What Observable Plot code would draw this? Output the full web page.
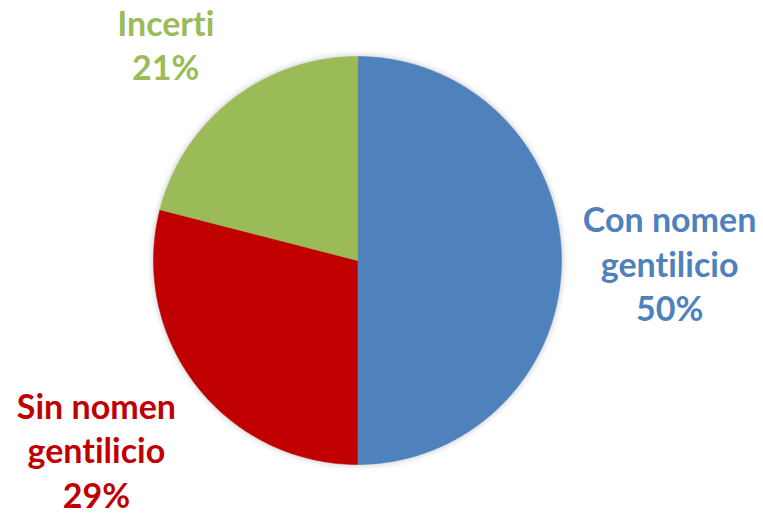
<!DOCTYPE html>
<html>
<head>
<meta charset="utf-8">
<script src="https://cdn.jsdelivr.net/npm/d3@7"></script>
<script src="https://cdn.jsdelivr.net/npm/@observablehq/plot@0.6"></script>
<style>
  html, body { margin: 0; padding: 0; background: #fff; }
  #chart svg text { font-variant-ligatures: none; font-feature-settings: "liga" 0, "clig" 0; }
</style>
</head>
<body>
<div id="chart"></div>
<script>
// Data
const categories = ["Con nomen gentilicio", "Sin nomen gentilicio", "Incerti"];
const values = [50, 29, 21];
const labels = ["Con nomen\ngentilicio\n50%", "Sin nomen\ngentilicio\n29%", "Incerti\n21%"];
const colors = ["#4F81BD", "#C00000", "#9BBB59"];

// Layout (pixels)
const W = 763, H = 515, cx = 357, cy = 260, R = 204;
// label anchor in units of radius (layout only)
const labelPos = [[1.53, 0.01], [-1.28, 0.925], [-0.94, -1.06]];

// Build slice polygons from values via d3.pie (angles from top, clockwise)
const arcs = d3.pie().sort(null).value(d => d)(values);
const pts = [];
arcs.forEach((a, i) => {
  pts.push({cat: categories[i], x: 0, y: 0});
  const n = Math.max(2, Math.ceil((a.endAngle - a.startAngle) / (Math.PI / 360)));
  for (let k = 0; k <= n; k++) {
    const t = a.startAngle + (a.endAngle - a.startAngle) * k / n;
    pts.push({cat: categories[i], x: Math.sin(t), y: -Math.cos(t)});
  }
});
const labelData = categories.map((c, i) => ({cat: c, text: labels[i], x: labelPos[i][0], y: labelPos[i][1]}));

const plot = Plot.plot({
  width: W,
  height: H,
  margin: 0,
  x: {domain: [-cx / R, (W - cx) / R], range: [0, W], axis: null},
  y: {domain: [-cy / R, (H - cy) / R], range: [0, H], axis: null},
  color: {domain: categories, range: colors},
  marks: [
    Plot.line(pts, {x: "x", y: "y", z: "cat", fill: "cat", stroke: "cat", strokeWidth: 0.5, curve: "linear-closed"}),
    Plot.text(labelData, {
      x: "x", y: "y", text: "text", fill: "cat",
      fontSize: 34, fontWeight: "bold", fontFamily: "Lato, 'Open Sans', sans-serif",
      lineHeight: 1.3, textAnchor: "middle", lineAnchor: "middle"
    })
  ]
});
plot.style.fontFamily = "Lato, sans-serif";
const g = plot.querySelector("g[aria-label='line']");
if (g) g.setAttribute("style", "filter: drop-shadow(0px 0px 3px rgba(0,0,0,0.25))");
document.getElementById("chart").appendChild(plot);
</script>
</body>
</html>
